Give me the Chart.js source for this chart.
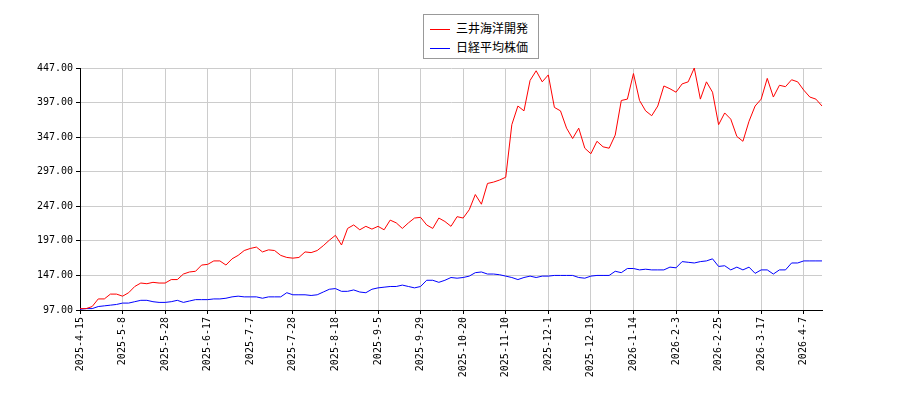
<!DOCTYPE html>
<html>
<head>
<meta charset="utf-8">
<script src="https://cdn.jsdelivr.net/npm/chart.js@4"></script>
<style>
  body { margin: 0; background: #fff; }
  #wrap { position: relative; width: 900px; height: 400px; }
  #legend { position: absolute; left: 423px; top: 14px; width: 116px; border: 1px solid #999;
    background: #fff; font-family: "Noto Sans CJK JP"; font-size: 12px; padding: 3px 0 2px 6px; box-sizing: border-box; }
  #legend div { height: 19px; line-height: 19px; white-space: nowrap; }
  #legend span { display: inline-block; width: 20px; height: 1px; vertical-align: middle; margin-right: 6px; }
</style>
</head>
<body>
<div id="wrap">
  <canvas id="chart" width="900" height="400"></canvas>
  <div id="legend"></div>
</div>
<script>
var tickLabels = ["2025-4-15", "2025-5-8", "2025-5-28", "2025-6-17", "2025-7-7", "2025-7-28",
  "2025-8-18", "2025-9-5", "2025-9-29", "2025-10-20", "2025-11-10", "2025-12-1",
  "2025-12-19", "2026-1-14", "2026-2-3", "2026-2-25", "2026-3-17", "2026-4-7"];

var mitsui = [99, 99, 102, 113, 113, 120, 120, 117, 122, 131, 136, 135, 137, 136, 136, 141, 141, 149, 152, 153,
  162, 163, 168, 168, 162, 171, 176, 183, 186, 188, 181, 184, 183, 176, 173, 172, 173, 181, 180, 183,
  190, 198, 205, 191, 215, 220, 213, 218, 214, 218, 213, 227, 223, 215, 223, 230, 231, 220, 215, 230,
  225, 218, 232, 230, 242, 264, 250, 280, 282, 285, 289, 365, 392, 385, 429, 443, 427, 437, 390, 385,
  360, 345, 360, 331, 323, 341, 333, 331, 350, 400, 402, 439, 400, 385, 378, 392, 421, 417, 412, 424,
  427, 447, 402, 427, 412, 365, 382, 373, 348, 341, 370, 392, 402, 432, 405, 422, 420, 430, 427, 415,
  405, 402, 392];

var nikkei = [98, 99, 99, 102, 103, 104, 105, 107, 107, 109, 111, 111, 109, 108, 108, 109, 111, 108, 110, 112,
  112, 112, 113, 113, 114, 116, 117, 116, 116, 116, 114, 116, 116, 116, 122, 119, 119, 119, 118, 119,
  123, 127, 128, 124, 124, 126, 123, 122, 127, 129, 130, 131, 131, 133, 131, 129, 131, 140, 140, 137,
  140, 144, 143, 144, 146, 151, 152, 149, 149, 148, 146, 144, 141, 144, 146, 144, 146, 146, 147, 147,
  147, 147, 144, 143, 146, 147, 147, 147, 153, 151, 157, 157, 155, 156, 155, 155, 155, 159, 158, 167,
  166, 165, 167, 168, 171, 160, 161, 155, 159, 155, 159, 150, 155, 155, 149, 155, 155, 165, 165, 168,
  168, 168, 168];

var labels = mitsui.map(function (v, i) {
  return i % 7 === 0 ? tickLabels[i / 7] : "";
});

var ctx = document.getElementById("chart").getContext("2d");
var chart = new Chart(ctx, {
  type: "line",
  data: {
    labels: labels,
    datasets: [
      { label: "三井海洋開発", data: mitsui, borderColor: "#ff0000", backgroundColor: "#ff0000", borderWidth: 1, pointRadius: 0, tension: 0 },
      { label: "日経平均株価", data: nikkei, borderColor: "#0000ff", backgroundColor: "#0000ff", borderWidth: 1, pointRadius: 0, tension: 0 }
    ]
  },
  options: {
    responsive: false,
    animation: false,
    devicePixelRatio: 1,
    layout: { padding: { top: 68, right: 78, left: 0, bottom: 0 } },
    plugins: {
      tooltip: { enabled: false },
      legend: { display: false }
    },
    scales: {
      x: {
        ticks: {
          autoSkip: false,
          maxRotation: 90,
          minRotation: 90,
          color: "#000",
          font: { family: "DejaVu Sans Mono", size: 10 }
        },
        grid: {
          color: function (c) { return c.index % 7 === 0 ? "#cccccc" : "transparent"; },
          tickColor: function (c) { return c.index % 7 === 0 ? "#000" : "transparent"; },
          tickLength: 4
        },
        border: { color: "#000" },
        afterFit: function (s) { s.height = 90; }
      },
      y: {
        min: 97,
        max: 447,
        ticks: {
          stepSize: 50,
          color: "#000",
          font: { family: "DejaVu Sans Mono", size: 10 },
          callback: function (v) { return v.toFixed(2); }
        },
        grid: { color: "#cccccc", tickColor: "#000", tickLength: 4 },
        border: { color: "#000" },
        afterFit: function (s) { s.width = 80; }
      }
    }
  }
});

var legendEl = document.getElementById("legend");
chart.data.datasets.forEach(function (ds) {
  var row = document.createElement("div");
  var sw = document.createElement("span");
  sw.style.background = ds.borderColor;
  row.appendChild(sw);
  row.appendChild(document.createTextNode(ds.label));
  legendEl.appendChild(row);
});
</script>
</body>
</html>
